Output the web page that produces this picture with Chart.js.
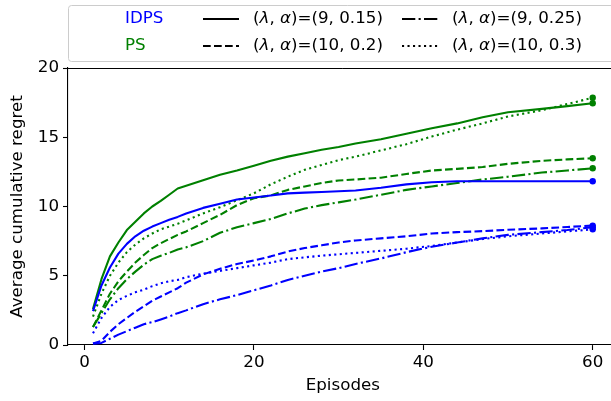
<!DOCTYPE html>
<html>
<head>
<meta charset="utf-8">
<script src="https://cdn.jsdelivr.net/npm/chart.js@4.4.1/dist/chart.umd.min.js"></script>
<style>
  html, body { margin: 0; padding: 0; background: #fff; overflow: hidden; }
  #wrap { position: relative; width: 622px; height: 401px; }
</style>
</head>
<body>
<div id="wrap"><canvas id="c" width="622" height="401"></canvas></div>
<script>
// ---- data ----
const episodes = [1,2,3,4,5,6,7,8,9,10,11,12,14,16,18,20,22,24,26,28,30,32,35,38,41,44,47,50,54,57,60];

const idps_9_015 = [2.45,4.3,5.6,6.6,7.3,7.85,8.25,8.55,8.8,9.05,9.25,9.5,9.9,10.2,10.5,10.65,10.8,10.95,11.0,11.05,11.1,11.15,11.35,11.6,11.75,11.82,11.82,11.82,11.82,11.82,11.82];
const idps_10_02 = [0.1,0.3,0.95,1.5,1.95,2.4,2.8,3.2,3.5,3.8,4.1,4.5,5.1,5.5,5.85,6.1,6.4,6.75,7.0,7.2,7.4,7.55,7.7,7.85,8.05,8.15,8.22,8.32,8.42,8.52,8.62];
const idps_9_025 = [0.1,0.15,0.45,0.75,1.0,1.25,1.5,1.65,1.85,2.05,2.3,2.5,2.95,3.3,3.6,3.95,4.3,4.7,5.0,5.3,5.55,5.85,6.25,6.7,7.1,7.4,7.7,7.95,8.15,8.3,8.5];
const idps_10_03 = [0.85,1.95,2.75,3.25,3.55,3.8,4.0,4.25,4.45,4.6,4.7,4.9,5.15,5.35,5.55,5.75,5.95,6.2,6.33,6.45,6.55,6.65,6.8,6.95,7.15,7.4,7.65,7.85,8.05,8.2,8.35];

const ps_9_015 = [2.6,4.75,6.4,7.4,8.3,8.9,9.5,10.0,10.4,10.85,11.3,11.5,11.9,12.3,12.6,12.95,13.3,13.6,13.85,14.1,14.3,14.55,14.85,15.25,15.65,16.0,16.45,16.8,17.05,17.25,17.45];
const ps_10_02 = [1.3,2.5,3.7,4.6,5.3,5.95,6.5,7.0,7.35,7.65,7.95,8.2,8.8,9.4,10.1,10.6,10.8,11.2,11.45,11.7,11.88,11.95,12.08,12.35,12.6,12.72,12.85,13.08,13.3,13.4,13.48];
const ps_9_025 = [1.3,2.3,3.3,4.1,4.75,5.3,5.8,6.2,6.45,6.65,6.9,7.05,7.5,8.1,8.5,8.8,9.1,9.5,9.85,10.1,10.3,10.5,10.85,11.2,11.45,11.7,11.95,12.15,12.45,12.6,12.76];
const ps_10_03 = [2.05,3.7,5.0,5.95,6.7,7.25,7.7,8.05,8.35,8.55,8.75,9.0,9.5,9.95,10.45,10.95,11.6,12.15,12.65,13.0,13.35,13.6,14.05,14.5,15.05,15.55,16.0,16.5,16.95,17.4,17.85];

const algorithms = ['IDPS', 'PS'];
const paramLabels = ['(9, 0.15)', '(10, 0.2)', '(9, 0.25)', '(10, 0.3)'];
const xTicks = [0, 20, 40, 60];
const yTicks = [0, 5, 10, 15, 20];
const xLabel = 'Episodes';
const yLabel = 'Average cumulative regret';

// ---- styles ----
const BLUE = '#0000ff', GREEN = '#008000';
const LW = 2.1;
const dashStyles = [[], [7.7, 3.3], [13.3, 3.3, 2.1, 3.3], [2.1, 3.4]];
const FONT = 'DejaVu Sans';
const FS = 16.7;

function mk(vals, color, styleIdx, name) {
  return {
    label: name,
    data: episodes.map((e, i) => ({x: e, y: vals[i]})),
    borderColor: color,
    backgroundColor: color,
    borderWidth: LW,
    borderDash: dashStyles[styleIdx],
    borderCapStyle: 'butt',
    borderJoinStyle: 'round',
    fill: false,
    tension: 0,
    pointRadius: vals.map((v, i) => i === vals.length - 1 ? 3.2 : 0),
    pointBorderWidth: 0,
    pointHoverRadius: 0
  };
}

const datasets = [
  mk(idps_9_015, BLUE, 0, 'IDPS ' + paramLabels[0]),
  mk(idps_10_02, BLUE, 1, 'IDPS ' + paramLabels[1]),
  mk(idps_9_025, BLUE, 2, 'IDPS ' + paramLabels[2]),
  mk(idps_10_03, BLUE, 3, 'IDPS ' + paramLabels[3]),
  mk(ps_9_015, GREEN, 0, 'PS ' + paramLabels[0]),
  mk(ps_10_02, GREEN, 1, 'PS ' + paramLabels[1]),
  mk(ps_9_025, GREEN, 2, 'PS ' + paramLabels[2]),
  mk(ps_10_03, GREEN, 3, 'PS ' + paramLabels[3])
];

// top/right spines
const spines = {
  id: 'spines',
  afterDatasetsDraw(chart) {
    const {ctx, chartArea: a} = chart;
    ctx.save();
    ctx.strokeStyle = '#000';
    ctx.lineWidth = 1;
    const t = Math.round(a.top) + 0.5;
    ctx.beginPath();
    ctx.moveTo(a.left, t); ctx.lineTo(a.right, t);
    ctx.lineTo(a.right, a.bottom);
    ctx.stroke();
    ctx.restore();
  }
};

// matplotlib-like legend
function drawMixed(ctx, x, y, params) {
  const parts = [['(', false], ['λ', true], [', ', false], ['α', true], [')=' + params, false]];
  for (const [t, it] of parts) {
    ctx.font = (it ? 'oblique ' : '') + FS + 'px "' + FONT + '"';
    ctx.fillText(t, x, y);
    x += ctx.measureText(t).width;
  }
}
const legendPlugin = {
  id: 'mplLegend',
  afterDraw(chart) {
    const ctx = chart.ctx;
    ctx.save();
    const bx = 68.5, by = 5.5, bw = 600, bh = 56, r = 3;
    ctx.beginPath();
    ctx.moveTo(bx + r, by);
    ctx.lineTo(bx + bw - r, by); ctx.arcTo(bx + bw, by, bx + bw, by + r, r);
    ctx.lineTo(bx + bw, by + bh - r); ctx.arcTo(bx + bw, by + bh, bx + bw - r, by + bh, r);
    ctx.lineTo(bx + r, by + bh); ctx.arcTo(bx, by + bh, bx, by + bh - r, r);
    ctx.lineTo(bx, by + r); ctx.arcTo(bx, by, bx + r, by, r);
    ctx.closePath();
    ctx.fillStyle = 'rgba(255,255,255,0.8)';
    ctx.fill();
    ctx.strokeStyle = '#cccccc';
    ctx.lineWidth = 1;
    ctx.stroke();

    const rows = [19, 46];
    ctx.textBaseline = 'middle';
    ctx.textAlign = 'left';
    ctx.font = FS + 'px "' + FONT + '"';
    ctx.fillStyle = BLUE; ctx.fillText(algorithms[0], 125, rows[0]);
    ctx.fillStyle = GREEN; ctx.fillText(algorithms[1], 125, rows[1]);
    const cols = [{hx: 203, tx: 253}, {hx: 402, tx: 452}];
    const order = [[0, 1], [2, 3]];
    for (let c = 0; c < 2; c++) {
      for (let rI = 0; rI < 2; rI++) {
        const s = order[c][rI];
        ctx.beginPath();
        ctx.setLineDash(dashStyles[s]);
        ctx.lineDashOffset = 0;
        ctx.lineCap = 'butt';
        ctx.strokeStyle = '#000';
        ctx.lineWidth = LW;
        ctx.moveTo(cols[c].hx, rows[rI]);
        ctx.lineTo(cols[c].hx + 36, rows[rI]);
        ctx.stroke();
        ctx.setLineDash([]);
        ctx.fillStyle = '#000';
        drawMixed(ctx, cols[c].tx, rows[rI], paramLabels[s]);
      }
    }
    ctx.restore();
  }
};

const chart = new Chart(document.getElementById('c'), {
  type: 'line',
  data: {datasets},
  options: {
    responsive: false,
    animation: false,
    devicePixelRatio: 1,
    layout: {padding: {top: 68, right: 4.3, bottom: 5, left: 0}},
    plugins: {legend: {display: false}, tooltip: {enabled: false}},
    elements: {line: {tension: 0}},
    scales: {
      x: {
        type: 'linear',
        min: -1.95, max: 62.95,
        afterFit(s) { s.height = 401 - 345 - 5; },
        afterBuildTicks(s) { s.ticks = xTicks.map(v => ({value: v})); },
        grid: {display: true, drawOnChartArea: false, drawTicks: true, tickLength: 5, tickWidth: 1.1, tickColor: '#000'},
        border: {display: true, color: '#000', width: 1.1},
        ticks: {color: '#000', font: {family: FONT, size: FS}, padding: 3, maxRotation: 0, autoSkip: false},
        title: {display: true, text: xLabel, color: '#000', font: {family: FONT, size: FS}, padding: {top: 0, bottom: 0}}
      },
      y: {
        type: 'linear',
        min: 0, max: 20,
        afterFit(s) { s.width = 68; },
        afterBuildTicks(s) { s.ticks = yTicks.map(v => ({value: v})); },
        grid: {display: true, drawOnChartArea: false, drawTicks: true, tickLength: 5, tickWidth: 1.1, tickColor: '#000'},
        border: {display: true, color: '#000', width: 1.1},
        ticks: {color: '#000', font: {family: FONT, size: FS}, padding: 4, autoSkip: false},
        title: {display: true, text: yLabel, color: '#000', font: {family: FONT, size: FS}, padding: {top: 8, bottom: 0}}
      }
    }
  },
  plugins: [spines, legendPlugin]
});
</script>
</body>
</html>
